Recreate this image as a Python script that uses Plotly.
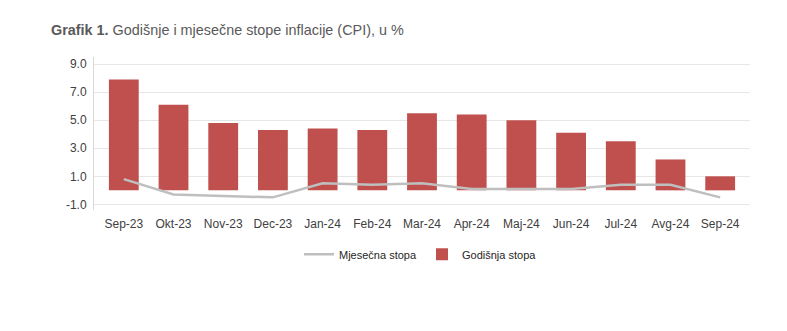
import plotly.graph_objects as go

months = ["Sep-23", "Okt-23", "Nov-23", "Dec-23", "Jan-24", "Feb-24", "Mar-24",
          "Apr-24", "Maj-24", "Jun-24", "Jul-24", "Avg-24", "Sep-24"]
godisnja = [7.9, 6.1, 4.8, 4.3, 4.4, 4.3, 5.5, 5.4, 5.0, 4.1, 3.5, 2.2, 1.0]
mjesecna = [0.8, -0.3, -0.4, -0.5, 0.5, 0.4, 0.5, 0.1, 0.1, 0.1, 0.4, 0.4, -0.5]
y_ticks = [-1.0, 1.0, 3.0, 5.0, 7.0, 9.0]
y_tick_text = ["-1.0", "1.0", "3.0", "5.0", "7.0", "9.0"]

FONT = "Liberation Sans, Arial, sans-serif"
TXT = "#404040"

fig = go.Figure()
fig.add_trace(go.Scatter(
    x=months, y=mjesecna, name="Mjesečna stopa", mode="lines",
    line=dict(color="#bfbfbf", width=2.5),
))
fig.add_trace(go.Bar(
    x=months, y=godisnja, name="Godišnja stopa",
    marker=dict(color="#c0504d", line=dict(width=0)),
))

fig.update_layout(
    width=787, height=331,
    margin=dict(l=94, r=37, t=57, b=121),
    paper_bgcolor="white", plot_bgcolor="white",
    font=dict(family=FONT, size=12, color=TXT),
    bargap=0.4,
    showlegend=True,
    legend=dict(orientation="h", x=0.5, xanchor="center", y=-0.29, yanchor="middle",
                font=dict(size=11, color="#262626"), traceorder="normal",
                itemwidth=30, entrywidth=78),
    annotations=[dict(
        text="<b>Grafik 1.</b> Godišnje i mjesečne stope inflacije (CPI), u %",
        xref="paper", yref="paper", x=-0.0686, y=1.176,
        xanchor="left", yanchor="middle", showarrow=False,
        font=dict(family=FONT, size=14.4, color="#595959"),
    )],
)
fig.update_xaxes(
    type="category", range=[-0.6, 12.6], showgrid=False, zeroline=False,
    showline=False, ticks="", ticklabelstandoff=5, tickfont=dict(size=12, color=TXT),
)
fig.update_yaxes(
    range=[-1.4, 9.5], tickvals=y_ticks, ticktext=y_tick_text,
    showgrid=True, gridcolor="#e6e6e6", gridwidth=1, zeroline=False,
    showline=True, linecolor="#d9d9d9", linewidth=1,
    ticks="", ticklabelstandoff=4, tickfont=dict(size=12, color=TXT),
)

fig.write_html("out.html")
